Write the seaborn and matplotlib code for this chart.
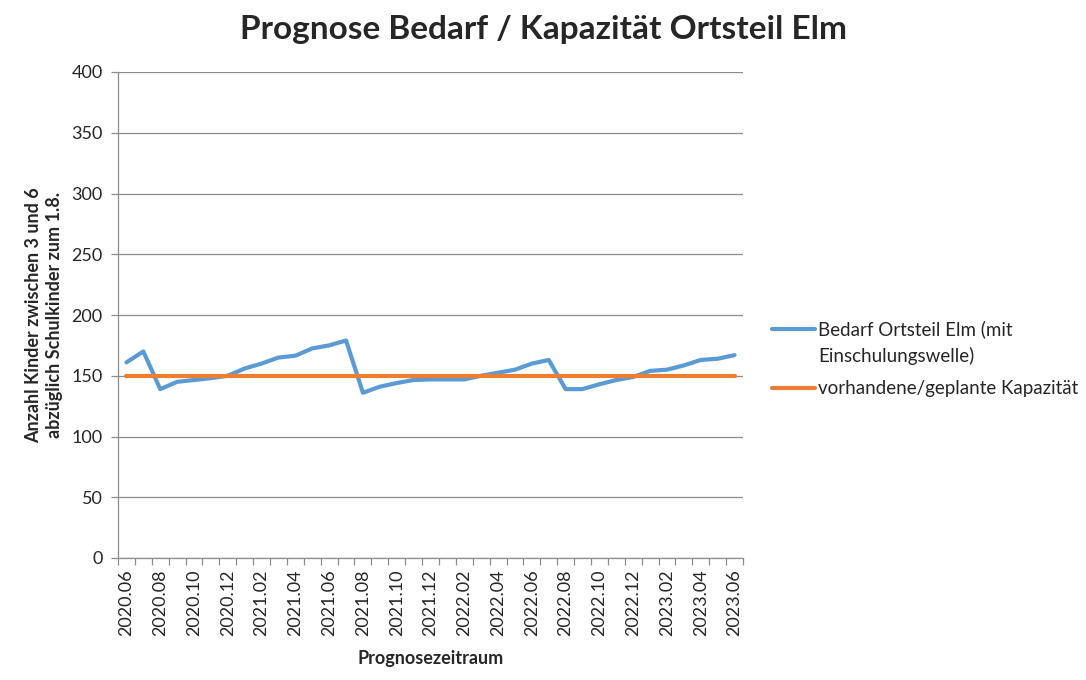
import matplotlib
matplotlib.use("Agg")
import matplotlib.pyplot as plt
import seaborn as sns
import pandas as pd
import numpy as np

# --- data ---
months = [f"{2020 + (5 + i) // 12}.{(5 + i) % 12 + 1:02d}" for i in range(37)]
bedarf = [161, 170, 139, 145, 146.5, 148, 150, 156, 160, 165, 166.5, 172.5, 175, 179,
          136, 141, 144, 146.5, 147, 147, 147, 150, 152.5, 155, 160, 163,
          139, 139, 143, 146.5, 149, 154, 155, 158.5, 163, 164, 167]
kapazitaet = [150] * 37
series_names = ["Bedarf Ortsteil Elm (mit\nEinschulungswelle)", "vorhandene/geplante Kapazität"]

df = pd.DataFrame({
    "idx": list(range(len(months))) * 2,
    "wert": bedarf + kapazitaet,
    "serie": [series_names[0]] * len(months) + [series_names[1]] * len(months),
})

sns.set_theme(style="white")
plt.rcParams['font.family'] = ['Lato', 'DejaVu Sans']

fig = plt.figure(figsize=(10.86, 6.8), dpi=100)
ax = fig.add_axes([118 / 1086, (680 - 558) / 680, (743 - 118) / 1086, (558 - 72) / 680])

sns.lineplot(data=df, x="idx", y="wert", hue="serie",
             palette=["#5b9bd5", "#ed7d31"], linewidth=3.0, ax=ax, legend=True)

ax.set_xlim(-0.5, len(months) - 0.5)
ax.set_ylim(0, 400)
ax.set_yticks(range(0, 401, 50))
ax.yaxis.grid(True, color="#8c8c8c", linewidth=0.9)
ax.set_axisbelow(True)

ax.set_xticks(range(0, len(months), 2))
ax.set_xticklabels([months[i] for i in range(0, len(months), 2)], rotation=90, fontsize=13)
ax.set_xticks(np.arange(-0.5, len(months), 1), minor=True)
ax.tick_params(axis="x", which="major", length=0, pad=8)
ax.tick_params(axis="x", which="minor", length=5, color="#8c8c8c", width=0.9, direction="out")
ax.tick_params(axis="y", length=5, color="#8c8c8c", width=0.9, direction="out", labelsize=13, pad=6)
ax.xaxis.set_tick_params(bottom=True, which="both")
ax.yaxis.set_tick_params(left=True)

for s in ["top", "right"]:
    ax.spines[s].set_visible(False)
for s in ["left", "bottom"]:
    ax.spines[s].set_color("#8c8c8c")
    ax.spines[s].set_linewidth(0.9)

ax.set_xlabel("Prognosezeitraum", fontsize=13, fontweight="bold", labelpad=10)
ax.set_ylabel("Anzahl Kinder zwischen 3 und 6\nabzüglich Schulkinder zum 1.8.",
              fontsize=13, fontweight="bold", labelpad=6, linespacing=1.3)

fig.suptitle("Prognose Bedarf / Kapazität Ortsteil Elm", x=0.5, y=0.978,
             fontsize=24, fontweight="bold")

leg = ax.legend(loc="center left", bbox_to_anchor=(1.02, 0.41), frameon=False,
                fontsize=13.5, handlelength=2.25, handletextpad=0.2, labelspacing=0.8)
for t in leg.get_texts():
    t.set_linespacing(1.6)
lines = leg.get_lines()
for line in lines:
    line.set_linewidth(3.0)
# align the first handle with the first text line (Excel style)
fig.canvas.draw()
shift_pts = 10.5
yd = np.asarray(lines[0].get_ydata(), dtype=float)
lines[0].set_ydata(yd + shift_pts)

fig.savefig("out.png", dpi=100)
